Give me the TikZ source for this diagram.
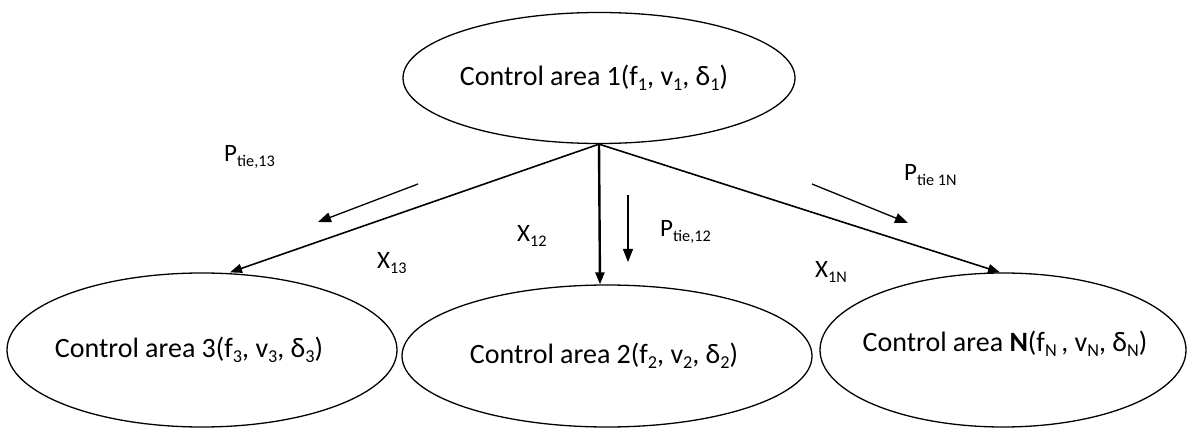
\documentclass[tikz,border=0pt]{standalone}
\usepackage{fontspec}
\setmainfont{Carlito}
\usetikzlibrary{shapes.geometric,arrows.meta,calc}
\newcommand\sbs[1]{\raisebox{-0.35ex}{\fontsize{0.65em}{0.65em}\selectfont #1}}
\begin{document}
\begin{tikzpicture}[x=1pt,y=-1pt,
  area/.style={draw,ellipse,line width=1.3pt,inner sep=0pt},
  atext/.style={inner sep=0pt,font=\fontsize{28}{32}\selectfont},
  link/.style={line width=1.6pt,-{Triangle[length=12pt,width=9pt]}},
  flow/.style={line width=1.3pt,-{Triangle[length=13pt,width=10pt]}},
  lbl/.style={font=\fontsize{25}{30}\selectfont,inner sep=0pt,anchor=west}]
\useasboundingbox (0,0) rectangle (1188,430);
\node[area,minimum width=392pt,minimum height=131pt] (a1) at (599,78) {};
\node[area,minimum width=390pt,minimum height=154pt] (a3) at (202,350) {};
\node[area,minimum width=410pt,minimum height=142pt] (a2) at (607,356) {};
\node[area,minimum width=366pt,minimum height=154pt] (aN) at (1003,350) {};
\node[atext] (t1) at ($(a1)+(-5,0)$) {Control area 1(f\sbs{1}, v\sbs{1}, δ\sbs{1})};
\node[atext] (t3) at ($(a3)+(-13,0)$) {Control area 3(f\sbs{3}, v\sbs{3}, δ\sbs{3})};
\node[atext] (t2) at ($(a2)+(-3,0)$) {Control area 2(f\sbs{2}, v\sbs{2}, δ\sbs{2})};
\node[atext] (tN) at ($(aN)+(2,-6)$) {Control area \textbf{N}(f\sbs{N}\,, v\sbs{N}, δ\sbs{N})};
\draw[link] (a1.south) -- ($(a3.north)+(28,0)$);
\draw[link,line width=2.4pt] (a1.south) -- ($(a2.north)+(-7,0)$);
\draw[link] (a1.south) -- ($(aN.north)+(-3,0)$);
\coordinate (p13s) at (418,184); \coordinate (p13e) at (318,222);
\coordinate (p12s) at (628,195); \coordinate (p12e) at (628,262);
\coordinate (p1Ns) at (812,184); \coordinate (p1Ne) at (908,223);
\draw[flow] (p13s) -- (p13e);
\draw[flow] (p12s) -- (p12e);
\draw[flow] (p1Ns) -- (p1Ne);
\node[lbl] (x13) at (377,263) {X\sbs{13}};
\node[lbl] (x12) at (517,236) {X\sbs{12}};
\node[lbl] (x1N) at (815,272) {X\sbs{1N}};
\node[lbl] (l13) at (224,157) {P\sbs{tie,13}};
\node[lbl] (l12) at (660,232) {P\sbs{tie,12}};
\node[lbl] (l1N) at (904,175) {P\sbs{tie 1N}};
\end{tikzpicture}
\end{document}
